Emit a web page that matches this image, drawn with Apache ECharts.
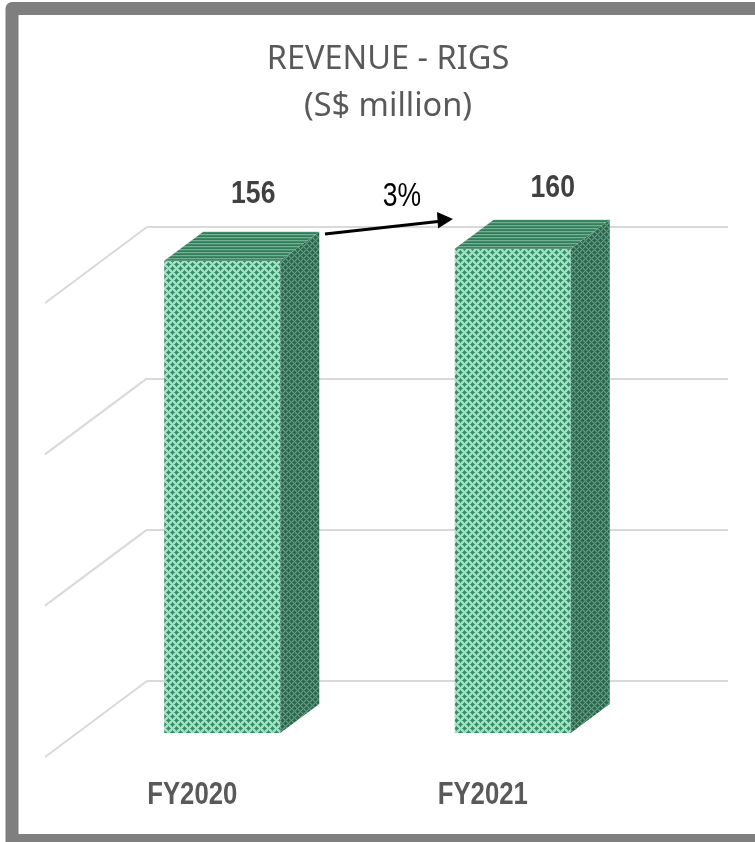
<!DOCTYPE html>
<html><head><meta charset="utf-8">
<style>html,body{margin:0;padding:0;background:#fff}#c{width:755px;height:842px}</style>
<script src="https://cdn.jsdelivr.net/npm/echarts@6/dist/echarts.min.js"></script>
</head><body><div id="c"></div>
<script>
const categories = ['FY2020', 'FY2021'];
const revenue = [156, 160];
const axisTicks = [0, 50, 100, 150];
const growthLabel = '3%';
const titleLines = ['REVENUE - RIGS', '(S$ million)'];

const SANS = '"Liberation Sans",Arial,sans-serif';

function makePattern(n, fn) {
  const cv = document.createElement('canvas');
  cv.width = cv.height = n;
  const g = cv.getContext('2d');
  for (let y = 0; y < n; y++) for (let x = 0; x < n; x++) { g.fillStyle = fn(x, y, n); g.fillRect(x, y, 1, 1); }
  return { image: cv, repeat: 'repeat' };
}
const dots = (light, mid, dark) => (x, y, n) => {
  const h = n / 2, wrap = a => Math.min(a, n - a);
  const d = Math.min(wrap(x) + wrap(y), wrap((x + h) % n) + wrap((y + h) % n));
  return d <= 1 ? dark : (d === 2 ? mid : light);
};
const frontFill = makePattern(8, dots('#a6dcc2', '#4ea680', '#2f8f65'));
const sideFill = makePattern(6, dots('#6b9a85', '#3f7a60', '#2d634b'));
const topFill = makePattern(3, (x, y) => (y % 3 === 0 ? '#74b094' : (y % 3 === 1 ? '#418a67' : '#327c5a')));

const chart = echarts.init(document.getElementById('c'), null, { renderer: 'canvas' });

const FRONT = [-70, 52], DEPTH = [39, 29], BAR_W = 116, WALL = [-102, 76];
const LABEL_NUDGE = [[31, -67], [40, -61]];
const CAT_LABEL_DX = -30, CAT_LABEL_Y = 795, CONDENSE = 0.83;

function condensed(x, y, text, font, fill) {
  return { type: 'text', x, y, scaleX: CONDENSE, style: { x: 0, y: 0, text, align: 'center', verticalAlign: 'middle', font, fill } };
}
function renderBar(params, api) {
  const i = api.value(0), v = api.value(1);
  const base = api.coord([i, 0]), top = api.coord([i, v]);
  const xl = base[0] + FRONT[0] - BAR_W / 2, xr = xl + BAR_W;
  const yb = base[1] + FRONT[1], yt = top[1] + FRONT[1];
  const dx = DEPTH[0], dy = DEPTH[1];
  const n = LABEL_NUDGE[i];
  const cx = (xl + xr) / 2;
  return { type: 'group', children: [
    { type: 'polygon', shape: { points: [[xl, yb], [xr, yb], [xr, yt], [xl, yt]] }, style: { fill: frontFill } },
    { type: 'polygon', shape: { points: [[xr, yb], [xr + dx, yb - dy], [xr + dx, yt - dy], [xr, yt]] }, style: { fill: sideFill } },
    { type: 'polygon', shape: { points: [[xl, yt], [xr, yt], [xr + dx, yt - dy], [xl + dx, yt - dy]] }, style: { fill: topFill } },
    condensed(cx + n[0], yt + n[1], String(v), 'bold 32px ' + SANS, '#404040'),
    condensed(cx + CAT_LABEL_DX, CAT_LABEL_Y, categories[i], 'bold 31px ' + SANS, '#595959')
  ] };
}
function renderWall(params, api) {
  const p = api.coord([0, api.value(0)]);
  const x0 = params.coordSys.x;
  return { type: 'line', shape: { x1: x0, y1: p[1], x2: x0 + WALL[0], y2: p[1] + WALL[1] },
    style: { stroke: '#d9d9d9', lineWidth: 2, fill: null } };
}

chart.setOption({
  animation: false,
  backgroundColor: '#fff',
  title: {
    text: titleLines.join('\n'), left: 383, top: 31, textAlign: 'center',
    textStyle: { fontFamily: '"Noto Sans"', fontWeight: 'normal', fontSize: 32.5, lineHeight: 47, color: '#595959' }
  },
  grid: { left: 147, right: 27, top: 227, bottom: 161 },
  xAxis: { type: 'category', data: categories,
    axisLine: { show: false }, axisTick: { show: false }, splitLine: { show: false }, axisLabel: { show: false } },
  yAxis: { type: 'value', min: 0, max: 150, interval: 50,
    axisLine: { show: false }, axisTick: { show: false }, axisLabel: { show: false },
    splitLine: { lineStyle: { color: '#d9d9d9', width: 2 } } },
  series: [
    { type: 'custom', name: 'wall', coordinateSystem: 'cartesian2d', silent: true, clip: false, renderItem: renderWall,
      encode: { y: 0 }, data: axisTicks.map(t => [t]), z: 1 },
    { type: 'custom', name: 'Revenue', coordinateSystem: 'cartesian2d', clip: false, renderItem: renderBar,
      encode: { x: 0, y: 1 }, data: revenue.map((v, i) => [i, v]), z: 2 }
  ],
  graphic: [
    { type: 'polyline', z: 0, silent: true, shape: { points: [[12, 842], [12, 8.5], [755, 8.5]] },
      style: { stroke: '#7f7f7f', lineWidth: 13, fill: null, lineJoin: 'round' } },
    { type: 'line', z: 0, silent: true, shape: { x1: 6, y1: 838, x2: 755, y2: 838 },
      style: { stroke: '#7f7f7f', lineWidth: 8 } },
    { type: 'line', z: 10, silent: true, shape: { x1: 325, y1: 234, x2: 438, y2: 221.5 },
      style: { stroke: '#000', lineWidth: 3 } },
    { type: 'polygon', z: 10, silent: true, shape: { points: [[453, 219], [437, 212], [438, 228.5]] },
      style: { fill: '#000' } },
    { type: 'text', z: 10, silent: true, x: 402, y: 197, scaleX: 0.78, style: { x: 0, y: 0, text: growthLabel, align: 'center', verticalAlign: 'middle',
        font: '34px ' + SANS, fill: '#000' } }
  ]
});
</script></body></html>
